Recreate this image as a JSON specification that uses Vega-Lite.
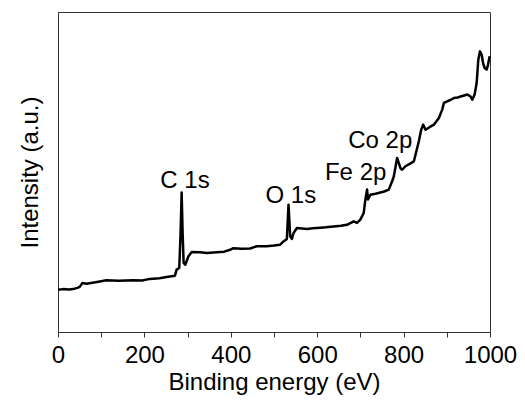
{
  "$schema": "https://vega.github.io/schema/vega-lite/v6.json",
  "width": 432,
  "height": 320,
  "autosize": {"type": "none"},
  "padding": {"left": 58, "top": 12, "right": 35, "bottom": 73},
  "config": {
    "font": "Liberation Sans",
    "view": {"stroke": "#333", "strokeWidth": 1},
    "axis": {"grid": false}
  },
  "datasets": {
    "spectrum": [
      {"e": 0, "i": 13.2}, {"e": 12, "i": 13.4}, {"e": 25, "i": 13.3}, {"e": 34.8, "i": 13.4}, {"e": 45, "i": 13.8},
      {"e": 50.3, "i": 14.1}, {"e": 56.5, "i": 15.3}, {"e": 65.7, "i": 15.1}, {"e": 80, "i": 15.4}, {"e": 96.7, "i": 15.8},
      {"e": 112.1, "i": 16.2}, {"e": 140, "i": 16.0}, {"e": 174, "i": 16.2}, {"e": 195, "i": 16.1}, {"e": 212.7, "i": 16.6},
      {"e": 235, "i": 16.8}, {"e": 251.4, "i": 17.2}, {"e": 270.7, "i": 17.6}, {"e": 274.6, "i": 19.5}, {"e": 280.7, "i": 20.0},
      {"e": 283.8, "i": 30.9}, {"e": 286.2, "i": 43.6}, {"e": 288.5, "i": 30.9}, {"e": 290.8, "i": 21.6}, {"e": 294.7, "i": 21.0},
      {"e": 301.6, "i": 23.6}, {"e": 309.4, "i": 25.0}, {"e": 328.7, "i": 24.9}, {"e": 345, "i": 24.7}, {"e": 367.4, "i": 24.9},
      {"e": 385, "i": 25.1}, {"e": 398.3, "i": 25.7}, {"e": 406, "i": 26.2}, {"e": 425, "i": 26.0}, {"e": 444.7, "i": 26.1},
      {"e": 460.2, "i": 26.8}, {"e": 483.4, "i": 26.8}, {"e": 500, "i": 27.0}, {"e": 514.3, "i": 27.3}, {"e": 522, "i": 28.3},
      {"e": 529.8, "i": 29.1}, {"e": 533.6, "i": 39.8}, {"e": 537.5, "i": 29.9}, {"e": 541.4, "i": 29.1}, {"e": 545.2, "i": 30.9},
      {"e": 553, "i": 32.5}, {"e": 576.2, "i": 32.2}, {"e": 590, "i": 32.4}, {"e": 607.1, "i": 32.6}, {"e": 620, "i": 32.7},
      {"e": 638, "i": 33.0}, {"e": 655, "i": 33.2}, {"e": 669, "i": 33.5}, {"e": 684.5, "i": 34.6}, {"e": 692.2, "i": 34.1},
      {"e": 699.9, "i": 35.1}, {"e": 707.7, "i": 37.2}, {"e": 711.5, "i": 41.4}, {"e": 715.4, "i": 44.5}, {"e": 717.7, "i": 41.4},
      {"e": 723.1, "i": 42.9}, {"e": 735, "i": 43.2}, {"e": 746.3, "i": 43.6}, {"e": 755, "i": 43.9}, {"e": 765.7, "i": 44.5},
      {"e": 773.4, "i": 47.1}, {"e": 777.3, "i": 48.6}, {"e": 785, "i": 54.4}, {"e": 792.7, "i": 51.2}, {"e": 796.6, "i": 50.7},
      {"e": 804.3, "i": 51.8}, {"e": 815, "i": 52.6}, {"e": 823.7, "i": 53.3}, {"e": 831.4, "i": 57.5}, {"e": 835.3, "i": 59.6},
      {"e": 840.7, "i": 63.2}, {"e": 845.3, "i": 64.8}, {"e": 850.7, "i": 63.2}, {"e": 860, "i": 64.0}, {"e": 870.1, "i": 64.8},
      {"e": 881.7, "i": 66.9}, {"e": 889.4, "i": 69.5}, {"e": 893.3, "i": 71.6}, {"e": 901, "i": 72.1}, {"e": 908, "i": 72.5},
      {"e": 916.5, "i": 73.1}, {"e": 925, "i": 73.3}, {"e": 932, "i": 73.6}, {"e": 940, "i": 73.9}, {"e": 947.4, "i": 74.2},
      {"e": 955.1, "i": 73.6}, {"e": 959, "i": 72.6}, {"e": 964.4, "i": 74.2}, {"e": 969.1, "i": 77.8}, {"e": 972.9, "i": 85.1},
      {"e": 976.8, "i": 87.7}, {"e": 980.7, "i": 86.7}, {"e": 983.8, "i": 84.1}, {"e": 987.6, "i": 82.5}, {"e": 992.3, "i": 82.0},
      {"e": 995.4, "i": 83.5}, {"e": 999.2, "i": 86.2}
    ],
    "peaks": [
      {"e": 294, "i": 47.2, "name": "C 1s"},
      {"e": 539, "i": 42.4, "name": "O 1s"},
      {"e": 689, "i": 49.6, "name": "Fe 2p"},
      {"e": 746, "i": 59.8, "name": "Co 2p"}
    ]
  },
  "layer": [
    {
      "data": {"name": "spectrum"},
      "mark": {"type": "line", "color": "#000", "strokeWidth": 2.5, "strokeJoin": "round"},
      "encoding": {
        "x": {
          "field": "e", "type": "quantitative",
          "scale": {"domain": [0, 1000], "nice": false, "zero": false},
          "axis": {
            "title": "Binding energy (eV)",
            "titleFontSize": 24, "titleFontWeight": "normal", "titleColor": "#000", "titlePadding": 3,
            "values": [0, 100, 200, 300, 400, 500, 600, 700, 800, 900, 1000],
            "format": "d",
            "labelExpr": "datum.value % 200 == 0 ? datum.label : ''",
            "labelOverlap": false, "labelFlush": false,
            "labelFontSize": 24, "labelColor": "#000", "labelPadding": 6,
            "tickSize": 5, "tickColor": "#333", "domainColor": "#333"
          }
        },
        "y": {
          "field": "i", "type": "quantitative",
          "scale": {"domain": [0, 100], "nice": false},
          "axis": {
            "title": "Intensity (a.u.)",
            "titleFontSize": 24, "titleFontWeight": "normal", "titleColor": "#000", "titlePadding": 16,
            "labels": false, "ticks": false, "domainColor": "#333"
          }
        }
      }
    },
    {
      "data": {"name": "peaks"},
      "mark": {"type": "text", "fontSize": 24, "color": "#000", "baseline": "middle", "align": "center"},
      "encoding": {
        "x": {"field": "e", "type": "quantitative"},
        "y": {"field": "i", "type": "quantitative"},
        "text": {"field": "name"}
      }
    }
  ]
}
